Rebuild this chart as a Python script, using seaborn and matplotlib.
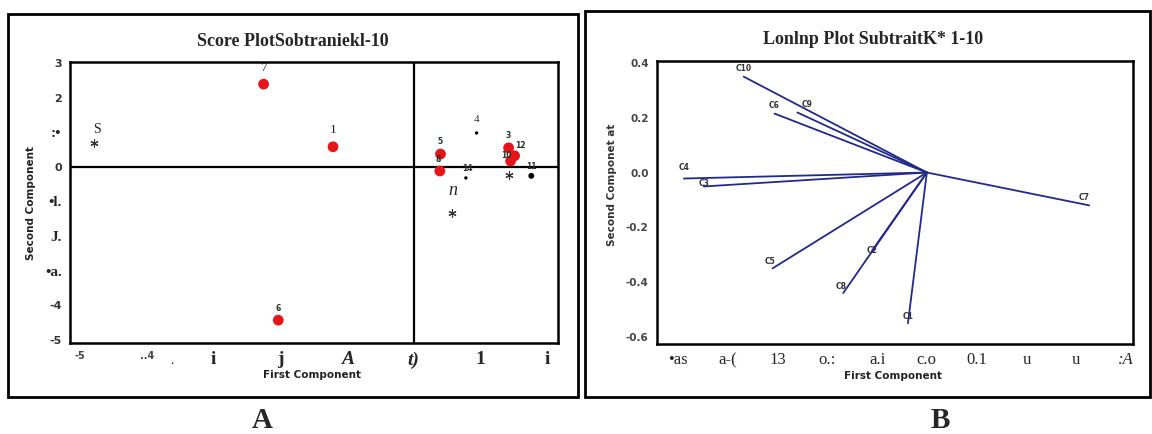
import numpy as np
import pandas as pd
import seaborn as sns
import matplotlib.pyplot as plt
from matplotlib.patches import Rectangle

# 得分图数据 (Score Plot)
red_lab = ['7', '1', '6', '5', '8', '3', '12', '10']
red_x = [-2.25, -1.21, -2.03, 0.40, 0.39, 1.42, 1.51, 1.45]
red_y = [2.39, 0.58, -4.43, 0.37, -0.12, 0.55, 0.32, 0.17]

dot_lab = ['4', '14', '11']
dot_x = [0.94, 0.78, 1.76]
dot_y = [0.98, -0.32, -0.26]

star_lab = ['S', 'n', '']
star_x = [-4.79, 0.57, 1.42]
star_y = [0.69, -1.32, -0.23]

score_xticks = [-5, -4, -3, -2, -1, 0, 1, 2]
score_xticklabels = ['-5', '..4', 'i', 'j', 'A', 't)', '1', 'i']
score_yticks = [3, 2, 1, 0, -1, -2, -3, -4, -5]
score_yticklabels = ['3', '2', ':•', '0', '•l.', 'J.', '•a.', '-4', '-5']

# 载荷图数据 (Loading Plot)
load_lab = ['C1', 'C2', 'C3', 'C4', 'C5', 'C6', 'C7', 'C8', 'C9', 'C10']
load_x = [-0.038, -0.11, -0.448, -0.488, -0.31, -0.306, 0.326, -0.168, -0.26, -0.368]
load_y = [-0.55, -0.285, -0.051, -0.022, -0.35, 0.215, -0.12, -0.44, 0.219, 0.350]

load_xticks = [-0.5, -0.4, -0.3, -0.2, -0.1, 0.0, 0.1, 0.2, 0.3, 0.4]
load_xticklabels = ['•as', 'a-(', '13', 'o.:', 'a.i', 'c.o', '0.1', 'u', 'u', ':A']
load_yticks = [0.4, 0.2, 0.0, -0.2, -0.4, -0.6]
load_yticklabels = ['0.4', '0.2', '0.0', '-0.2', '-0.4', '-0.6']

sns.set_theme(style="white")
plt.rcParams['font.family'] = ['DejaVu Sans']

W, H = 1152, 434
fig = plt.figure(figsize=(W / 100, H / 100), dpi=100)


def fx(px):
    return px / W


def fy(py):
    return 1 - py / H


# 外框
fig.patches.append(Rectangle((fx(8), fy(397)), fx(570), 383 / H, transform=fig.transFigure,
                             fill=False, edgecolor='black', lw=2))
fig.patches.append(Rectangle((fx(585), fy(397)), fx(565), 386 / H, transform=fig.transFigure,
                             fill=False, edgecolor='black', lw=2))

serif = 'Liberation Serif'

# ---------- A: Score Plot ----------
ax1 = fig.add_axes([fx(70), fy(343), fx(488), 281 / H])
df_red = pd.DataFrame({'x': red_x, 'y': red_y, 'lab': red_lab})
df_dot = pd.DataFrame({'x': dot_x, 'y': dot_y, 'lab': dot_lab})
df_star = pd.DataFrame({'x': star_x, 'y': star_y, 'lab': star_lab})

ax1.axhline(0, color='black', lw=1.6, zorder=1)
ax1.axvline(0, color='black', lw=1.6, zorder=1)
sns.scatterplot(data=df_red, x='x', y='y', color='#e8141c', s=60, edgecolor='none', ax=ax1, zorder=3)
sns.scatterplot(data=df_dot, x='x', y='y', color='black', s=[6, 6, 18], edgecolor='none', ax=ax1, zorder=3)
# 星号 (asterisk)
sns.scatterplot(data=df_star, x='x', y='y', marker=(6, 2, 0), s=28, color='#333333',
                edgecolor='#333333', linewidth=0.8, ax=ax1, zorder=3)

# 小标签的偏移
small_off = {'6': (0.0, 0.22), '5': (0.0, 0.22), '8': (-0.03, 0.2), '3': (-0.01, 0.24),
             '12': (0.08, 0.16), '10': (-0.06, 0.04), '14': (0.02, 0.15), '11': (0.0, 0.15)}
big = {'7', '1', '4'}
for _, r in df_red.iterrows():
    if r['lab'] in big:
        ax1.text(r['x'], r['y'] + 0.3, r['lab'], ha='center', va='bottom', fontsize=9.5, family=serif)
    else:
        dx, dy = small_off[r['lab']]
        ax1.text(r['x'] + dx, r['y'] + dy, r['lab'], ha='center', va='bottom', fontsize=5.5,
                 fontweight='bold', color='#223322', zorder=4)
for _, r in df_dot.iterrows():
    if r['lab'] in big:
        ax1.text(r['x'], r['y'] + 0.25, r['lab'], ha='center', va='bottom', fontsize=8, family=serif,
                 color='#333333')
    else:
        dx, dy = small_off[r['lab']]
        ax1.text(r['x'] + dx, r['y'] + dy, r['lab'], ha='center', va='bottom', fontsize=5.5,
                 fontweight='bold', color='#333333')
ax1.text(star_x[0] + 0.05, star_y[0] + 0.2, 'S', ha='center', va='bottom', fontsize=10, family=serif)
ax1.text(star_x[1] + 0.02, star_y[1] + 0.4, 'n', ha='center', va='bottom', fontsize=13,
         family=serif, style='italic')

ax1.set_xlim(-5.15, 2.16)
ax1.set_ylim(-5.09, 3.03)
ax1.set_xticks(score_xticks)
ax1.set_xticklabels(score_xticklabels)
ax1.set_yticks(score_yticks)
ax1.set_yticklabels(score_yticklabels)
ax1.tick_params(axis='both', direction='out', length=4, width=1.2, color='black', pad=2)
for t in ax1.get_xticklabels():
    if t.get_text() in ('-5', '..4'):
        t.set_fontsize(7)
        t.set_fontweight('bold')
        t.set_color('#444444')
    else:
        t.set_family(serif)
        t.set_fontsize(14)
        t.set_fontweight('bold')
        if t.get_text() in ('A', 't)'):
            t.set_style('italic')
for t in ax1.get_yticklabels():
    if t.get_text() in ('3', '2', '0', '-4', '-5'):
        t.set_fontsize(8)
        t.set_fontweight('bold')
        t.set_color('#333333')
    else:
        t.set_family(serif)
        t.set_fontsize(11)
        t.set_fontweight('bold')
ax1.set_xlabel('')
ax1.set_ylabel('')
for sp in ax1.spines.values():
    sp.set_color('black')
    sp.set_linewidth(1.8)
fig.text(fx(172), fy(360), '.', fontsize=10, ha='center', va='center', family=serif)

fig.text(fx(293), fy(42), 'Score PlotSobtraniekl-10', ha='center', va='center',
         fontsize=13, fontweight='bold', family=serif)
fig.text(fx(312), fy(375), 'First Component', ha='center', va='center',
         fontsize=7.5, fontweight='bold', color='#222222')
fig.text(fx(31), fy(203), 'Second Component', ha='center', va='center', rotation=90,
         fontsize=7.5, fontweight='bold', color='#222222')

# ---------- B: Loading Plot ----------
ax2 = fig.add_axes([fx(657), fy(344), fx(476), 283 / H])
for lx, ly in zip(load_x, load_y):
    sns.lineplot(x=[0, lx], y=[0, ly], color='#1f2a8a', lw=1.3, ax=ax2, sort=False)
lab_off = {'C10': (0.0, 0.03), 'C6': (0.0, 0.03), 'C9': (0.02, 0.03), 'C4': (0.0, 0.04),
           'C3': (0.0, 0.01), 'C7': (-0.01, 0.03), 'C5': (-0.005, 0.025), 'C8': (-0.005, 0.025),
           'C2': (0.0, 0.0), 'C1': (0.0, 0.025)}
for lab, lx, ly in zip(load_lab, load_x, load_y):
    dx, dy = lab_off[lab]
    ax2.text(lx + dx, ly + dy, lab, ha='center', va='center', fontsize=5.5,
             fontweight='bold', color='#333333')

ax2.set_xlim(-0.542, 0.414)
ax2.set_ylim(-0.626, 0.407)
ax2.set_xticks(load_xticks)
ax2.set_xticklabels(load_xticklabels)
ax2.set_yticks(load_yticks)
ax2.set_yticklabels(load_yticklabels)
ax2.tick_params(axis='both', direction='out', length=4, width=1.2, color='black', pad=2)
for t in ax2.get_xticklabels():
    t.set_family(serif)
    t.set_fontsize(12)
    if t.get_text() == ':A':
        t.set_style('italic')
for t in ax2.get_yticklabels():
    t.set_fontsize(7.5)
    t.set_fontweight('bold')
    t.set_color('#444444')
ax2.set_xlabel('')
ax2.set_ylabel('')
for sp in ax2.spines.values():
    sp.set_color('black')
    sp.set_linewidth(1.8)

fig.text(fx(873), fy(40), 'Lonlnp Plot SubtraitK* 1-10', ha='center', va='center',
         fontsize=13, fontweight='bold', family=serif)
fig.text(fx(893), fy(376), 'First Component', ha='center', va='center',
         fontsize=7.5, fontweight='bold', color='#222222')
fig.text(fx(612), fy(185), 'Second Componet at', ha='center', va='center', rotation=90,
         fontsize=7.5, fontweight='bold', color='#333333')

# A / B 标签
fig.text(fx(262), fy(420), 'A', ha='center', va='center', fontsize=21, fontweight='bold', family=serif)
fig.text(fx(940), fy(420), 'B', ha='center', va='center', fontsize=21, fontweight='bold', family=serif)

fig.savefig('out.png', dpi=100)
